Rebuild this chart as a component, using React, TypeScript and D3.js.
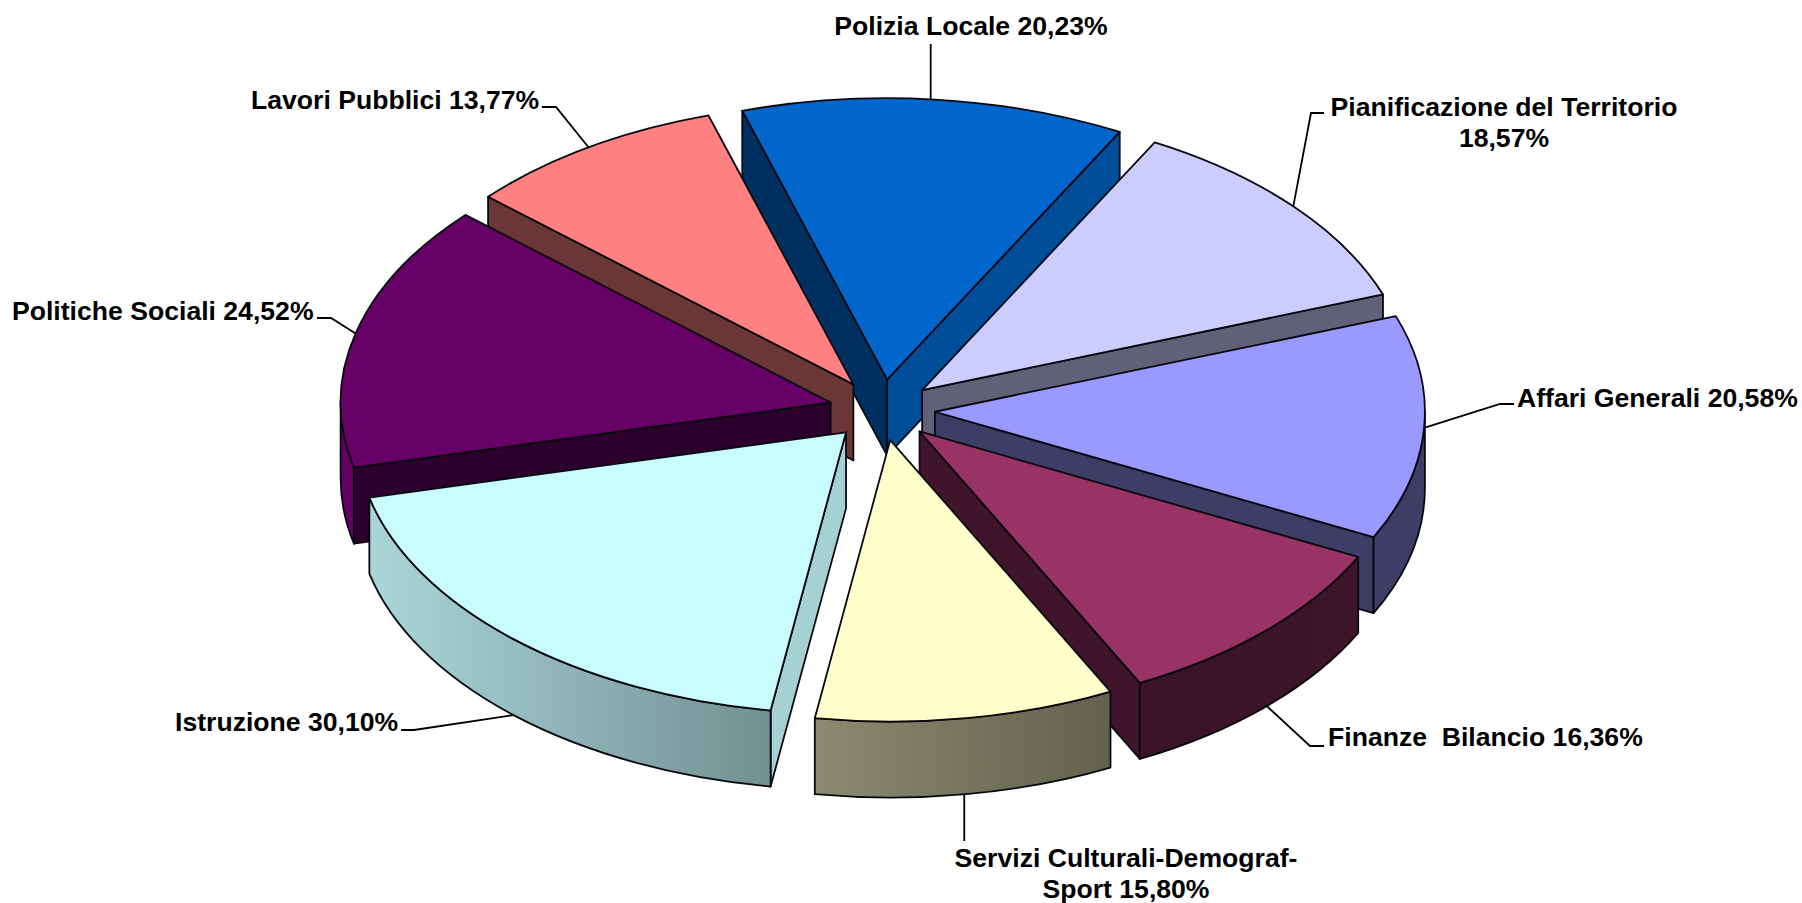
import React from 'react'
import * as d3 from 'd3'

const categories = [
  'Polizia Locale',
  'Pianificazione del Territorio',
  'Affari Generali',
  'Finanze  Bilancio',
  'Servizi Culturali-Demograf-Sport',
  'Istruzione',
  'Politiche Sociali',
  'Lavori Pubblici',
]
const values = [20.23, 18.57, 20.58, 16.36, 15.8, 30.1, 24.52, 13.77]
const valueLabels = ['20,23%', '18,57%', '20,58%', '16,36%', '15,80%', '30,10%', '24,52%', '13,77%']

const colors = ['#0066cc', '#ccccff', '#9999ff', '#993366', '#ffffcc', '#c8fcff', '#660066', '#ff8080']
// how dark the flat cut walls are, relative to the top colour
const cutShade = [
  [0.47, 0.75],
  [0.47, 0.47],
  [0.4, 0.4],
  [0.42, 0.42],
  [0.4, 0.4],
  [0.83, 0.5],
  [0.43, 0.43],
  [0.42, 0.42],
]

const width = 1802
const height = 903
const cx = 882
const cy = 410
const rx = 490
const ry = 281.5
const explode = 53
const depth = 76

// label layout: text lines, anchor, baseline, then leader elbow
const labelLayout = [
  { lines: [`${categories[0]} ${valueLabels[0]}`], x: 971, y: 35, anchor: 'middle', from: [931, 44], elbow: null, drop: false, nudge: -4 },
  { lines: ['Pianificazione del Territorio', valueLabels[1]], x: 1504, y: 116, anchor: 'middle', from: [1324, 113], elbow: [1311, 113], drop: false, nudge: 0 },
  { lines: [`${categories[2]} ${valueLabels[2]}`], x: 1517, y: 407, anchor: 'start', from: [1514, 404], elbow: [1500, 404], drop: false, nudge: 0 },
  { lines: [`${categories[3]} ${valueLabels[3]}`], x: 1328, y: 746, anchor: 'start', from: [1324, 746], elbow: [1310, 746], drop: true, nudge: 0 },
  { lines: ['Servizi Culturali-Demograf-', `Sport ${valueLabels[4]}`], x: 1126, y: 867, anchor: 'middle', from: [965, 841], elbow: null, drop: true, nudge: -2 },
  { lines: [`${categories[5]} ${valueLabels[5]}`], x: 175, y: 731, anchor: 'start', from: [401, 730], elbow: [414, 730], drop: true, nudge: 0 },
  { lines: [`${categories[6]} ${valueLabels[6]}`], x: 12, y: 320, anchor: 'start', from: [317, 318], elbow: [331, 318], drop: false, nudge: 0 },
  { lines: [`${categories[7]} ${valueLabels[7]}`], x: 251, y: 109, anchor: 'start', from: [542, 107], elbow: [556, 107], drop: false, nudge: 0 },
]

// wall brightness falls off from left to right across the pie
const wallShade = d3
  .scaleLinear()
  .domain([339, 369, 772, 1112, 1424])
  .range([1, 0.85, 0.57, 0.38, 0.4])
  .clamp(true)

const shade = (color: string, k: number) => {
  const c = d3.rgb(color)
  return d3.rgb(c.r * k, c.g * k, c.b * k).formatHex()
}

const toT = (a: number) => a - Math.PI / 2

const pie = d3
  .pie<number>()
  .sort(null)
  .startAngle((-17.2 * Math.PI) / 180)
  .endAngle((342.8 * Math.PI) / 180)

const arcs = pie(values)

const slices = arcs
  .map((arc, i) => {
    const t0 = toT(arc.startAngle)
    const t1 = toT(arc.endAngle)
    const mid = (t0 + t1) / 2
    const ax = cx + explode * Math.cos(mid)
    const ay = cy + explode * (ry / rx) * Math.sin(mid)
    const at = (t: number, r = 1): [number, number] => [ax + r * rx * Math.cos(t), ay + r * ry * Math.sin(t)]
    return { i, t0, t1, mid, ax, ay, at }
  })
  .sort((a, b) => Math.sin(a.mid) - Math.sin(b.mid))

const topPath = (s: (typeof slices)[number]) => {
  const [x0, y0] = s.at(s.t0)
  const [x1, y1] = s.at(s.t1)
  const large = s.t1 - s.t0 > Math.PI ? 1 : 0
  return `M${s.ax},${s.ay}L${x0},${y0}A${rx},${ry} 0 ${large} 1 ${x1},${y1}Z`
}

const cutPath = (s: (typeof slices)[number], t: number) => {
  const [x, y] = s.at(t)
  return `M${s.ax},${s.ay}L${x},${y}L${x},${y + depth}L${s.ax},${s.ay + depth}Z`
}

// part of the rim that faces the viewer, sin(t) > 0
const rimRange = (s: (typeof slices)[number]): [number, number] | null => {
  for (const shift of [0, 2 * Math.PI, -2 * Math.PI]) {
    const a = Math.max(s.t0 + shift, 0)
    const b = Math.min(s.t1 + shift, Math.PI)
    if (b > a) return [a, b]
  }
  return null
}

const rimPath = (s: (typeof slices)[number], a: number, b: number) => {
  const [x0, y0] = s.at(a)
  const [x1, y1] = s.at(b)
  return `M${x0},${y0}A${rx},${ry} 0 0 1 ${x1},${y1}L${x1},${y1 + depth}A${rx},${ry} 0 0 0 ${x0},${y0 + depth}Z`
}

const stroke = '#08080f'
const fontFamily = '"Liberation Sans", Arial, sans-serif'

export default function App() {
  return (
    <svg
      width={width}
      height={height}
      viewBox={`0 0 ${width} ${height}`}
      style={{ position: 'absolute', left: 0, top: 0, display: 'block', background: '#fff' }}
    >
      <defs>
        {slices.map((s) => {
          const range = rimRange(s)
          if (!range) return null
          const xa = s.at(range[0])[0]
          const xb = s.at(range[1])[0]
          const left = Math.min(xa, xb)
          const right = Math.max(xa, xb)
          return (
            <linearGradient key={s.i} id={`rim-${s.i}`} gradientUnits="userSpaceOnUse" x1={left} x2={right} y1={0} y2={0}>
              <stop offset="0" stopColor={shade(colors[s.i], wallShade(left))} />
              <stop offset="1" stopColor={shade(colors[s.i], wallShade(right))} />
            </linearGradient>
          )
        })}
      </defs>

      {slices.map((s) => {
        const range = rimRange(s)
        return (
          <g key={s.i} stroke={stroke} strokeWidth={1.8} strokeLinejoin="round">
            {Math.cos(s.t0) < 0 && <path d={cutPath(s, s.t0)} fill={shade(colors[s.i], cutShade[s.i][0])} />}
            {Math.cos(s.t1) > 0 && <path d={cutPath(s, s.t1)} fill={shade(colors[s.i], cutShade[s.i][1])} />}
            {range && <path d={rimPath(s, range[0], range[1])} fill={`url(#rim-${s.i})`} />}
            <path d={topPath(s)} fill={colors[s.i]} />
          </g>
        )
      })}

      {slices.map((s) => {
        const l = labelLayout[s.i]
        const [ex0, ey0] = s.at(s.mid)
        const ex = ex0 + l.nudge
        const ey = l.drop ? ey0 + depth : ey0
        const start = l.elbow ? l.from : [ex, l.from[1]]
        const pts = [start, ...(l.elbow ? [l.elbow] : []), [ex, ey]] as [number, number][]
        return <path key={s.i} d={d3.line()(pts) ?? ''} fill="none" stroke="#000" strokeWidth={1.8} />
      })}

      <g fontFamily={fontFamily} fontWeight="bold" fontSize={26.6} fill="#000">
        {slices.map((s) => {
          const l = labelLayout[s.i]
          return (
            <text key={s.i} x={l.x} y={l.y} textAnchor={l.anchor as 'start' | 'middle'}>
              {l.lines.map((line, k) => (
                <tspan key={k} x={l.x} dy={k === 0 ? 0 : 31} xmlSpace="preserve">
                  {line}
                </tspan>
              ))}
            </text>
          )
        })}
      </g>
    </svg>
  )
}
